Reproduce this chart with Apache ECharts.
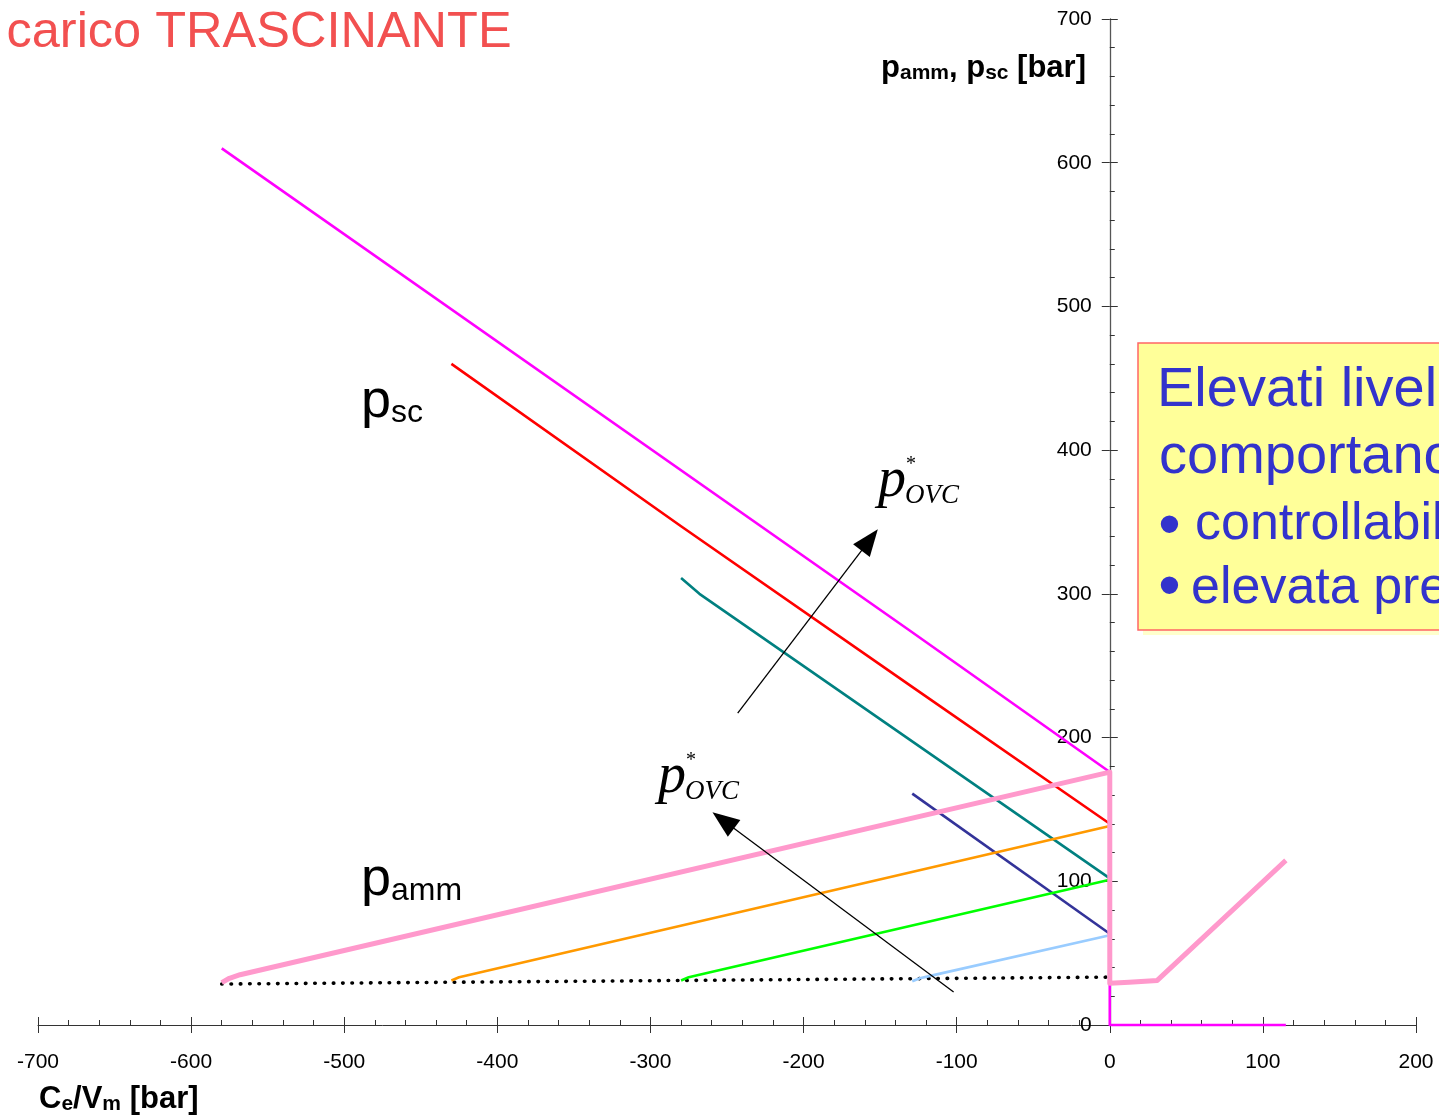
<!DOCTYPE html>
<html>
<head>
<meta charset="utf-8">
<script src="https://cdn.jsdelivr.net/npm/echarts@6/dist/echarts.min.js"></script>
<style>
  html, body { margin: 0; padding: 0; background: #fff; }
  #chart { width: 1439px; height: 1118px; }
</style>
</head>
<body>
<div id="chart"></div>
<script>
// ---- data ----
const xRange = [-700, 200];
const yRange = [0, 700];
const tickStep = 100;

// p_sc curves (falling)
const pscMagenta = [[-580, 610], [-130, 274], [0, 176], [0, 0], [115, 0]];
const pscRed = [[-430, 460], [-280, 347], [-130, 236], [0, 140]];
const pscTeal = [[-280, 311], [-268, 300], [0, 102]];
const pscNavy = [[-129, 161], [0, 63.5]];

// p_amm curves (rising)
const pammPink = [[-580, 29.5], [-575, 32.5], [-568, 35], [0, 176], [0, 29], [12.6, 29.8], [31, 31], [115, 114.5]];
const pammOrange = [[-430, 31], [-425, 33.2], [-420, 34.5], [0, 138.5]];
const pammGreen = [[-280, 31], [-275, 33.2], [-268, 35], [0, 101]];
const pammLightBlue = [[-129, 30.5], [-124, 32.5], [-118, 34], [0, 62.5]];

// dotted lower bound
const dottedBase = [[-580, 28.5], [0, 33.3]];

// arrows: [xFrom, yFrom, xTo, yTo]
const arrows = [[-243, 217, -151.5, 345], [-102, 23, -259.5, 148]];

const SANS = "'Liberation Sans', Arial, sans-serif";
const SERIF = "'Liberation Serif', 'Times New Roman', serif";

// layout
const W = 1439, H = 1118;
const gridL = 38, gridR = 23, gridT = 19, gridB = 93;
const gridW = W - gridL - gridR;
// place the vertical axis at x = 0 of the horizontal scale
const yAxisOffset = -((0 - xRange[0]) / (xRange[1] - xRange[0])) * gridW;

function lineSeries(data, color, width, extra) {
  return Object.assign({
    type: 'line', data: data, symbol: 'none', smooth: false, clip: false,
    silent: true, animation: false,
    lineStyle: { color: color, width: width, join: 'round' }
  }, extra || {});
}

const axisColor = '#333';

function txt(x, y, text, font, fill, align, extra) {
  return Object.assign({
    type: 'text', x: x, y: y, z: 10,
    style: { text: text, fill: fill, font: font, align: align, textAlign: align,
             verticalAlign: 'middle', textVerticalAlign: 'middle' }
  }, extra || {});
}

function richLabel(x, y, text, align, mainSize, subSize, subLH, bold) {
  const fw = bold ? 'bold' : 'normal';
  return {
    type: 'text', x: x, y: y, z: 10,
    style: {
      text: text, align: align, textAlign: align, verticalAlign: 'top', textVerticalAlign: 'top',
      fill: '#000',
      rich: {
        b: { fontSize: mainSize, fontWeight: fw, fontFamily: SANS, lineHeight: mainSize, fill: '#000', color: '#000' },
        s: { fontSize: subSize, fontWeight: fw, fontFamily: SANS, lineHeight: subLH, verticalAlign: 'bottom', fill: '#000', color: '#000' }
      }
    }
  };
}

const option = {
  animation: false,
  grid: { left: gridL, right: gridR, top: gridT, bottom: gridB, containLabel: false, outerBoundsMode: 'none' },
  xAxis: [
    {
      type: 'value', min: xRange[0], max: xRange[1], interval: tickStep, position: 'bottom',
      axisLine: { onZero: false, lineStyle: { color: axisColor, width: 1 } },
      axisTick: { show: true, inside: true, length: 8, lineStyle: { color: axisColor } },
      minorTick: { show: true, splitNumber: 5, length: 5, lineStyle: { color: axisColor } },
      splitLine: { show: false }, minorSplitLine: { show: false },
      axisLabel: { color: '#000', fontSize: 21, fontFamily: SANS, margin: 27 }
    },
    {
      type: 'value', min: xRange[0], max: xRange[1], interval: tickStep, position: 'bottom',
      axisLine: { show: false, onZero: false },
      axisTick: { show: true, inside: false, length: 8, lineStyle: { color: axisColor } },
      minorTick: { show: false },
      splitLine: { show: false }, axisLabel: { show: false }
    }
  ],
  yAxis: [
    {
      type: 'value', min: yRange[0], max: yRange[1], interval: tickStep, position: 'left',
      offset: yAxisOffset,
      axisLine: { onZero: false, lineStyle: { color: '#555', width: 1.3 } },
      axisTick: { show: true, inside: true, length: 8, lineStyle: { color: axisColor } },
      minorTick: { show: true, splitNumber: 5, length: 5, lineStyle: { color: axisColor } },
      splitLine: { show: false }, minorSplitLine: { show: false },
      axisLabel: { color: '#000', fontSize: 21, fontFamily: SANS, margin: 18 }
    },
    {
      type: 'value', min: yRange[0], max: yRange[1], interval: tickStep, position: 'left',
      offset: yAxisOffset,
      axisLine: { show: false, onZero: false },
      axisTick: { show: true, inside: false, length: 8, lineStyle: { color: axisColor } },
      minorTick: { show: false },
      splitLine: { show: false }, axisLabel: { show: false }
    }
  ],
  series: [
    lineSeries(dottedBase, '#000', 3.5, {
      lineStyle: { color: '#000', width: 3.6, type: [0.5, 8.8], cap: 'round' }
    }),
    lineSeries(pscMagenta, '#FF00FF', 2.6),
    lineSeries(pscRed, '#FF0000', 2.6),
    lineSeries(pscTeal, '#008080', 2.6),
    lineSeries(pscNavy, '#333399', 2.6),
    lineSeries(pammOrange, '#FF9900', 2.6),
    lineSeries(pammGreen, '#00FF00', 2.6),
    lineSeries(pammLightBlue, '#99CCFF', 2.6),
    lineSeries(pammPink, '#FF99CC', 5, { z: 5 }),
    {
      type: 'custom', coordinateSystem: 'cartesian2d', data: arrows, clip: false,
      silent: true, animation: false, z: 6,
      encode: { x: [0, 2], y: [1, 3] },
      renderItem: function (params, api) {
        const p1 = api.coord([api.value(0), api.value(1)]);
        const p2 = api.coord([api.value(2), api.value(3)]);
        const dx = p2[0] - p1[0], dy = p2[1] - p1[1];
        const len = Math.sqrt(dx * dx + dy * dy);
        const ux = dx / len, uy = dy / len;
        const hl = 27, hw = 10.5;
        const bx = p2[0] - ux * hl, by = p2[1] - uy * hl;
        return {
          type: 'group',
          children: [
            { type: 'line', shape: { x1: p1[0], y1: p1[1], x2: bx + ux * 2, y2: by + uy * 2 },
              style: { stroke: '#000', lineWidth: 1.3 } },
            { type: 'polygon',
              shape: { points: [[p2[0], p2[1]], [bx - uy * hw, by + ux * hw], [bx + uy * hw, by - ux * hw]] },
              style: { fill: '#000' } }
          ]
        };
      }
    }
  ],
  graphic: [
    // title
    txt(6.5, 33.5, 'carico TRASCINANTE', '50.5px ' + SANS, '#F25050', 'left'),
    // axis names
    richLabel(1086, 53, '{b|p}{s|amm}{b|, p}{s|sc}{b| [bar]}', 'right', 31, 21, 13, true),
    richLabel(39, 1084, '{b|C}{s|e}{b|/V}{s|m}{b| [bar]}', 'left', 31, 21, 13, true),
    // curve family labels
    richLabel(361, 375, '{b|p}{s|sc}', 'left', 54, 32, 27, false),
    richLabel(361, 853, '{b|p}{s|amm}', 'left', 54, 32, 27, false),
    // p*_OVC upper
    txt(878, 481, 'p', 'italic 56px ' + SERIF, '#000', 'left'),
    txt(905, 496, 'OVC', 'italic 27px ' + SERIF, '#000', 'left'),
    txt(911, 465, '*', '20px ' + SERIF, '#000', 'center'),
    // p*_OVC lower
    txt(658, 777, 'p', 'italic 56px ' + SERIF, '#000', 'left'),
    txt(685, 792, 'OVC', 'italic 27px ' + SERIF, '#000', 'left'),
    txt(691, 761, '*', '20px ' + SERIF, '#000', 'center'),
    // yellow note box
    { type: 'rect', x: 1143, y: 348, z: 8, shape: { x: 0, y: 0, width: 400, height: 287 },
      style: { fill: '#FFFFCC' } },
    { type: 'rect', x: 1138, y: 343, z: 9, shape: { x: 0, y: 0, width: 400, height: 287 },
      style: { fill: '#FFFF99', stroke: '#FF6666', lineWidth: 1.5 } },
    txt(1157, 390.5, 'Elevati livelli di', '56px ' + SANS, '#3333CC', 'left'),
    txt(1159, 457.5, 'comportano', '56px ' + SANS, '#3333CC', 'left'),
    txt(1169.5, 528, '•', '64px ' + SANS, '#3333CC', 'center'),
    txt(1195, 525, 'controllabilità', '52px ' + SANS, '#3333CC', 'left'),
    txt(1169.5, 589, '•', '64px ' + SANS, '#3333CC', 'center'),
    txt(1191, 588.7, 'elevata pressione', '52px ' + SANS, '#3333CC', 'left')
  ]
};

const chart = echarts.init(document.getElementById('chart'), null, { renderer: 'canvas' });
chart.setOption(option);
</script>
</body>
</html>
